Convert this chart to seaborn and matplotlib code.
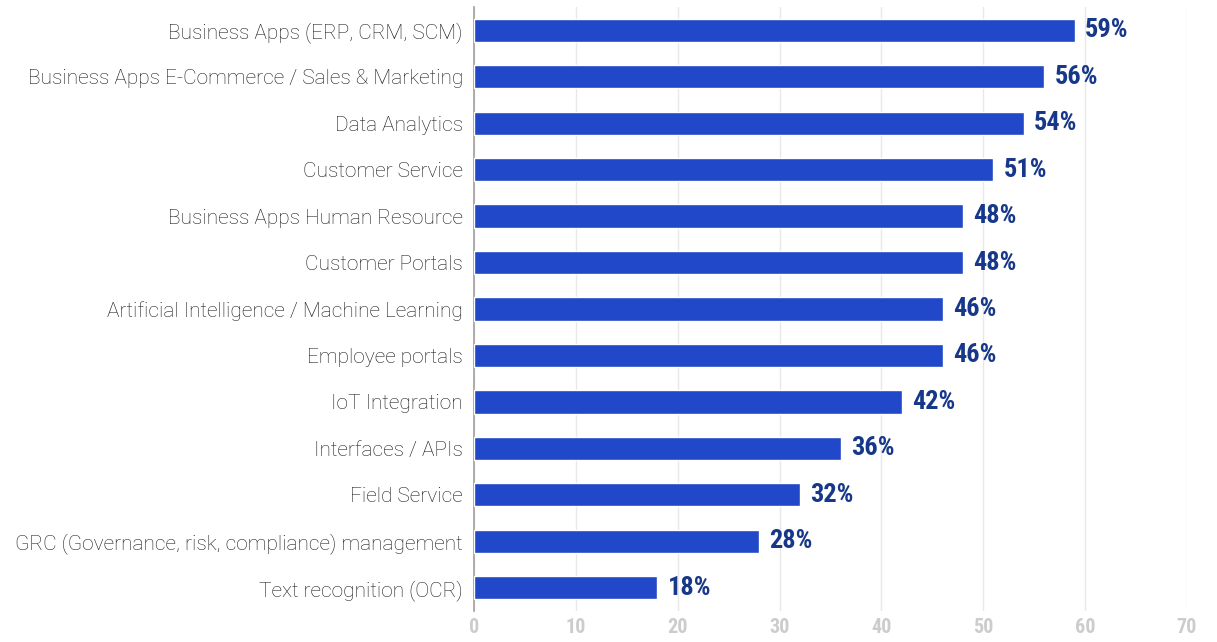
import matplotlib
matplotlib.use('Agg')
import matplotlib.pyplot as plt
import matplotlib.font_manager as fm
import seaborn as sns
import pandas as pd

# ===============================
# Data
# ===============================
categories = [
    'Business Apps (ERP, CRM, SCM)',
    'Business Apps E-Commerce / Sales & Marketing',
    'Data Analytics',
    'Customer Service',
    'Business Apps Human Resource',
    'Customer Portals',
    'Artificial Intelligence / Machine Learning',
    'Employee portals',
    'IoT Integration',
    'Interfaces / APIs',
    'Field Service',
    'GRC (Governance, risk, compliance) management',
    'Text recognition (OCR)',
]
values = [59, 56, 54, 51, 48, 48, 46, 46, 42, 36, 32, 28, 18]
x_ticks = [0, 10, 20, 30, 40, 50, 60, 70]

df = pd.DataFrame({'category': categories, 'value': values})

# pick a condensed font for the numbers if one is installed
names = {f.name for f in fm.fontManager.ttflist}
narrow, stretch = 'DejaVu Sans', 'condensed'
for cand in ['Roboto Condensed', 'Liberation Sans Narrow', 'Open Sans Condensed']:
    if cand in names:
        narrow, stretch = cand, 'normal'
        break

sns.set_style('white')
plt.rcParams['font.family'] = ['Roboto', 'DejaVu Sans']

fig = plt.figure(figsize=(12.17, 6.42), dpi=100)
ax = fig.add_axes([0.3895, 0.0483, 0.5858, 0.9408])

sns.barplot(data=df, x='value', y='category', color='#2148c8', saturation=1,
            width=0.5, ax=ax, zorder=3)

for i, v in enumerate(values):
    ax.text(v + 1, i, f'{v}%', va='center', ha='left', fontsize=19,
            fontweight='bold', color='#17388a', family=narrow, fontstretch=stretch)

ax.set_xlim(0, 70)
ax.set_ylim(12.5, -0.5)
ax.set_xticks(x_ticks)
ax.set_xticklabels([str(t) for t in x_ticks], fontsize=14.5, fontweight='bold',
                   color='#cccccc', family=narrow, fontstretch=stretch)
for lbl in ax.get_yticklabels():
    lbl.set_fontweight('light')
ax.tick_params(axis='y', labelsize=15, labelcolor='#1a1a1a', length=0, pad=8)
ax.tick_params(axis='x', length=0, pad=5)
ax.set_xlabel('')
ax.set_ylabel('')
ax.xaxis.grid(True, color='#e8e8e8', linewidth=1, zorder=0)
for s in ['top', 'right', 'bottom']:
    ax.spines[s].set_visible(False)
ax.spines['left'].set_color('#a0a0a0')
ax.spines['left'].set_linewidth(1.2)

fig.savefig('out.png', dpi=100)
